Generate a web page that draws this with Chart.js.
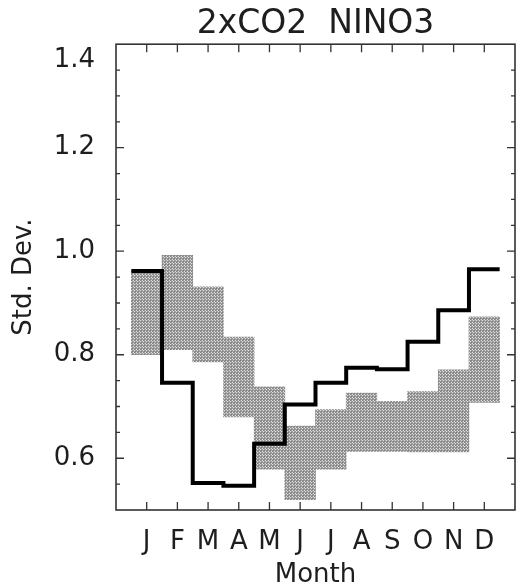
<!DOCTYPE html>
<html lang="en">

<head>
    <meta charset="UTF-8">
    <title>2xCO2 NINO3</title>
    <script src="https://cdn.jsdelivr.net/npm/chart.js@4.4.1/dist/chart.umd.min.js"></script>
    <style>
        body { margin: 0; background: #fff; }
        #wrap { width: 524px; height: 588px; }
    </style>
</head>

<body>
    <div id="wrap">
        <canvas id="chart"></canvas>
    </div>
    <script>
        // month labels and values
        const months = ['J', 'F', 'M', 'A', 'M', 'J', 'J', 'A', 'S', 'O', 'N', 'D']
        const co2Std = [0.962, 0.746, 0.552, 0.547, 0.628, 0.704, 0.746, 0.775, 0.772, 0.825, 0.886, 0.965]
        const ctrlLow = [0.800, 0.810, 0.786, 0.680, 0.579, 0.520, 0.579, 0.613, 0.613, 0.612, 0.612, 0.708]
        const ctrlHigh = [0.962, 0.992, 0.931, 0.834, 0.738, 0.662, 0.694, 0.726, 0.710, 0.729, 0.771, 0.873]
        const yLabels = [0.6, 0.8, 1.0, 1.2, 1.4]

        Chart.defaults.font.family = 'DejaVu Sans'
        Chart.defaults.color = '#1e1e1e'

        // stipple fill like the scanned plot
        function stipple() {
            let c = document.createElement('canvas')
            c.width = 3
            c.height = 3
            let g = c.getContext('2d')
            g.fillStyle = '#9c9c9c'
            g.fillRect(0, 0, 3, 3)
            g.fillStyle = '#808080'
            g.fillRect(0, 0, 1, 1)
            g.fillRect(2, 1, 1, 1)
            g.fillStyle = '#e0e0e0'
            g.fillRect(1, 1, 1, 1)
            g.fillRect(2, 2, 1, 1)
            return g.createPattern(c, 'repeat')
        }

        // box with inward ticks on all four sides (IDL style)
        const frameTicks = {
            id: 'frameTicks',
            afterDraw(chart) {
                const { ctx, chartArea: a, scales: { x, y } } = chart
                ctx.save()
                ctx.strokeStyle = '#333'
                ctx.lineWidth = 1.6
                ctx.strokeRect(a.left, a.top, a.right - a.left, a.bottom - a.top)
                ctx.lineWidth = 1.3
                ctx.beginPath()
                x.ticks.forEach(t => {
                    if (t.value <= x.min || t.value >= x.max) return
                    let px = x.getPixelForValue(t.value)
                    ctx.moveTo(px, a.bottom)
                    ctx.lineTo(px, a.bottom - 8)
                    ctx.moveTo(px, a.top)
                    ctx.lineTo(px, a.top + 8)
                })
                y.ticks.forEach(t => {
                    if (t.value <= y.min + 1e-6 || t.value >= y.max - 1e-6) return
                    let py = y.getPixelForValue(t.value)
                    let len = yLabels.some(v => Math.abs(v - t.value) < 1e-6) ? 8 : 4
                    ctx.moveTo(a.left, py)
                    ctx.lineTo(a.left + len, py)
                    ctx.moveTo(a.right, py)
                    ctx.lineTo(a.right - len, py)
                })
                ctx.stroke()
                ctx.restore()
            }
        }

        // step line: month centres plus half-month ends
        var stepPts = [{ x: 0.5, y: co2Std[0] }]
        for (let i = 0; i < months.length; i++) {
            stepPts.push({ x: i + 1, y: co2Std[i] })
        }
        stepPts.push({ x: months.length + 0.5, y: co2Std[months.length - 1] })

        var boxes = []
        for (let i = 0; i < months.length; i++) {
            boxes.push({ x: i + 1, y: [ctrlLow[i], ctrlHigh[i]] })
        }

        var chrt = new Chart(document.getElementById('chart'), {
            data: {
                datasets: [{
                    type: 'line',
                    label: '2xCO2',
                    data: stepPts,
                    stepped: 'middle',
                    borderColor: '#000',
                    borderWidth: 4,
                    borderJoinStyle: 'miter',
                    borderCapStyle: 'butt',
                    pointRadius: 0,
                    fill: false,
                }, {
                    type: 'bar',
                    label: 'Control range',
                    data: boxes,
                    backgroundColor: stipple(),
                    borderWidth: 0,
                    barPercentage: 1,
                    categoryPercentage: 1,
                    grouped: false,
                }, ]
            },
            options: {
                responsive: true,
                maintainAspectRatio: false,
                animation: false,
                layout: { padding: { left: 0, right: 2, top: 0, bottom: 0 } },
                plugins: {
                    legend: { display: false },
                    tooltip: { enabled: false },
                    title: {
                        display: true,
                        text: '2xCO2  NINO3',
                        fullSize: false,
                        color: '#1e1e1e',
                        font: { size: 33, weight: 'normal' },
                        padding: { top: 3, bottom: 0.4 },
                    },
                },
                scales: {
                    x: {
                        type: 'linear',
                        min: 0,
                        max: 13,
                        offset: false,
                        grid: { display: false },
                        border: { display: false },
                        ticks: {
                            stepSize: 1,
                            autoSkip: false,
                            maxRotation: 0,
                            padding: 9,
                            font: { size: 26 },
                            callback: (v) => (v >= 1 && v <= 12) ? months[v - 1] : '',
                        },
                        title: {
                            display: true,
                            text: 'Month',
                            font: { size: 26, lineHeight: 0.95 },
                            padding: { top: 0, bottom: 0 },
                        },
                        afterFit: (s) => { s.height = 78 },
                    },
                    y: {
                        min: 0.5,
                        max: 1.4,
                        grid: { display: false },
                        border: { display: false },
                        ticks: {
                            stepSize: 0.05,
                            autoSkip: false,
                            maxTicksLimit: 40,
                            padding: 13,
                            font: { size: 26 },
                            callback: function(v) {
                                if (!yLabels.some(l => Math.abs(l - v) < 1e-6)) return ''
                                let s = v.toFixed(1)
                                    // top label sits below the frame corner in the original
                                if (Math.abs(v - 1.4) < 1e-6) return ['', s]
                                return s
                            },
                        },
                        title: {
                            display: true,
                            text: 'Std. Dev.',
                            font: { size: 26 },
                            padding: { top: 9, bottom: 0 },
                        },
                        afterFit: (s) => { s.width = 116 },
                    },
                },
            },
            plugins: [frameTicks],
        })
    </script>
</body>

</html>
